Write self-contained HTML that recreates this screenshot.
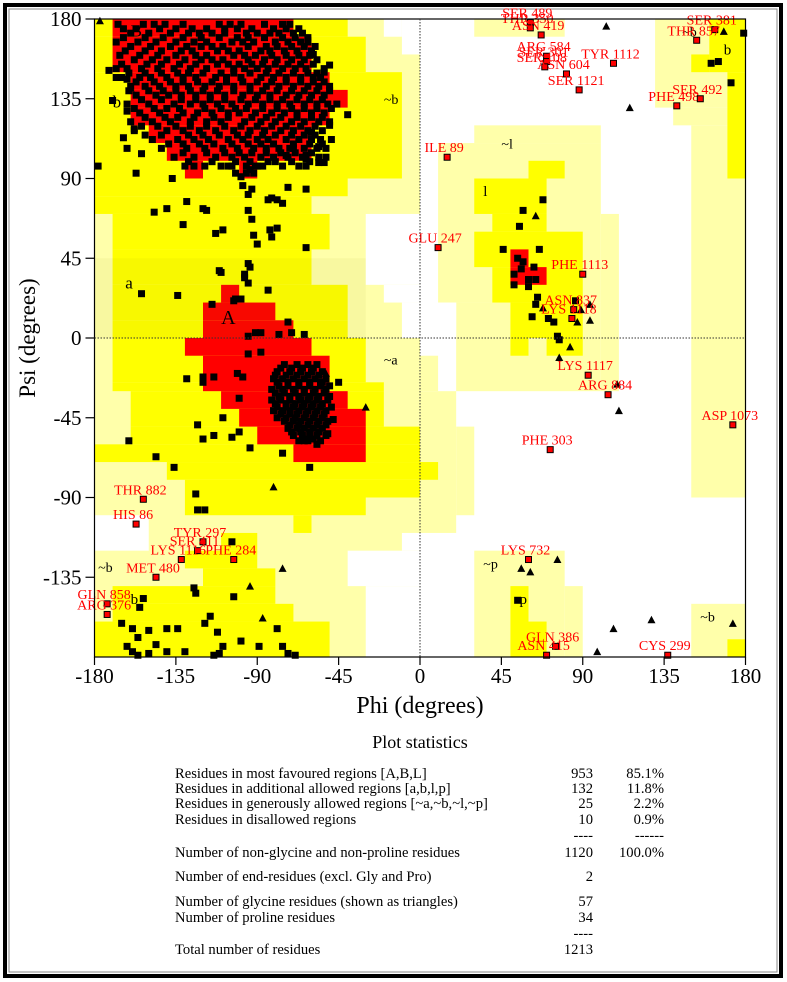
<!DOCTYPE html>
<html><head><meta charset="utf-8">
<style>
html,body{margin:0;padding:0;background:#fff;}
svg{display:block;font-family:"Liberation Serif",serif;}
</style></head>
<body>
<svg id="chart" width="787" height="982" viewBox="0 0 787 982" xmlns="http://www.w3.org/2000/svg">
<rect x="0" y="0" width="787" height="982" fill="#fff"/>
<rect x="5" y="5" width="776" height="971" fill="none" stroke="#000" stroke-width="4"/>
<rect x="9" y="9" width="768" height="963" fill="none" stroke="#888" stroke-width="1"/>
<g id="regions"></g>
<g id="points"></g>
<g id="axes"></g>
<g id="stats" font-size="14.6">
<text x="420" y="748" text-anchor="middle" font-size="18">Plot statistics</text>
<text x="175" y="778">Residues in most favoured regions  [A,B,L]</text>
<text x="593" y="778" text-anchor="end">953</text>
<text x="664" y="778" text-anchor="end">85.1%</text>
<text x="175" y="793">Residues in additional allowed regions  [a,b,l,p]</text>
<text x="593" y="793" text-anchor="end">132</text>
<text x="664" y="793" text-anchor="end">11.8%</text>
<text x="175" y="808">Residues in generously allowed regions  [~a,~b,~l,~p]</text>
<text x="593" y="808" text-anchor="end">25</text>
<text x="664" y="808" text-anchor="end">2.2%</text>
<text x="175" y="824">Residues in disallowed regions</text>
<text x="593" y="824" text-anchor="end">10</text>
<text x="664" y="824" text-anchor="end">0.9%</text>
<text x="593" y="840" text-anchor="end">----</text>
<text x="664" y="840" text-anchor="end">------</text>
<text x="175" y="857">Number of non-glycine and non-proline residues</text>
<text x="593" y="857" text-anchor="end">1120</text>
<text x="664" y="857" text-anchor="end">100.0%</text>
<text x="175" y="881">Number of end-residues (excl. Gly and Pro)</text>
<text x="593" y="881" text-anchor="end">2</text>
<text x="175" y="906">Number of glycine residues (shown as triangles)</text>
<text x="593" y="906" text-anchor="end">57</text>
<text x="175" y="922">Number of proline residues</text>
<text x="593" y="922" text-anchor="end">34</text>
<text x="593" y="938" text-anchor="end">----</text>
<text x="175" y="954">Total number of residues</text>
<text x="593" y="954" text-anchor="end">1213</text>
</g>
</svg>
<script>
// ---- data ----
const phiTicks = [-180,-135,-90,-45,0,45,90,135,180];
const psiTicks = [180,135,90,45,0,-45,-90,-135];
const betaPsiRows = [177,172,167,162,157,152,147,142,137,132,127,122,117,112,107,102,97,93,
174.5,169.5,164.5,159.5,154.5,149.5,144.5,139.5,134.5,129.5,124.5,119.5,114.5,109.5,104.5,99.5];
const betaPhiRows = [
[-167,-153,-147,-141,-131,-111,-105,-99,-86,-76,-72],
[-160,-150,-138,-128,-122,-115,-108,-96,-90,-83,-78,-70,-65],
[-168,-156,-146,-135,-125,-118,-104,-98,-92,-80,-73,-66,-62],
[-163,-152,-143,-132,-126,-112,-106,-100,-88,-83,-75,-68,-60],
[-158,-148,-140,-130,-121,-115,-109,-95,-86,-79,-71,-64,-57],
[-168,-162,-154,-145,-136,-127,-118,-103,-97,-90,-84,-76,-69,-63,-53],
[-165,-155,-149,-140,-131,-124,-113,-107,-99,-88,-81,-74,-66,-59,-55],
[-160,-152,-144,-135,-128,-119,-111,-103,-94,-85,-78,-70,-62,-56,-50],
[-157,-146,-139,-132,-124,-116,-108,-98,-90,-83,-74,-67,-60,-53],
[-162,-150,-136,-127,-120,-112,-104,-95,-87,-79,-72,-64,-57,-51,-46],
[-155,-144,-131,-123,-115,-106,-100,-91,-82,-75,-68,-60,-53],
[-160,-148,-138,-127,-118,-110,-97,-88,-80,-71,-64,-56,-50],
[-158,-140,-131,-122,-113,-103,-94,-86,-77,-70,-62,-54],
[-148,-134,-125,-117,-106,-98,-90,-84,-74,-67,-60,-55],
[-162,-143,-129,-119,-109,-101,-92,-85,-78,-72,-64,-57,-52],
[-136,-125,-113,-104,-97,-88,-81,-73,-65,-56,-52],
[-130,-125,-119,-110,-106,-96,-91,-87,-76,-67,-63],
[-102,-96,-92],
[-164,-157,-144,-135,-126,-118,-108,-101,-93,-81,-74,-67],
[-164,-152,-142,-131,-121,-111,-101,-95,-86,-76,-69,-62],
[-160,-149,-138,-129,-121,-115,-109,-95,-85,-79,-71,-64,-58],
[-166,-155,-145,-135,-124,-118,-103,-97,-91,-82,-74,-67,-61],
[-165,-151,-143,-133,-124,-112,-106,-100,-93,-87,-80,-73,-66,-59],
[-161,-152,-143,-134,-128,-120,-110,-103,-94,-85,-78,-70,-62,-57],
[-157,-147,-138,-131,-123,-115,-107,-98,-90,-82,-74,-66,-59,-53],
[-161,-150,-142,-135,-127,-120,-112,-103,-94,-87,-79,-71,-64,-57,-50],
[-154,-143,-132,-124,-116,-108,-99,-91,-83,-76,-68,-61,-54],
[-158,-147,-140,-133,-119,-110,-102,-96,-87,-79,-71,-64,-57,-49],
[-152,-141,-134,-125,-114,-106,-93,-85,-77,-68,-60,-54],
[-154,-145,-135,-127,-118,-108,-99,-90,-82,-74,-66,-58],
[-152,-143,-128,-120,-111,-101,-95,-87,-80,-71,-64,-58],
[-139,-131,-122,-114,-104,-95,-88,-81,-70,-61,-54],
[-131,-118,-108,-100,-93,-85,-77,-69,-60],
[-128,-115,-102,-94,-84,-80,-71,-61]
];
const blobPsiRows = [-15,-19,-23,-27,-31,-35,-39,-43,-47,-51,-55,-58,-17,-21,-25,-29,-33,-37,-41,-45,-49,-53,-57];
const blobPhiRows = [
[-75,-68,-62,-57],
[-79,-72,-66,-60,-54],
[-81,-76,-70,-64,-58,-52],
[-78,-73,-67,-61,-55,-50],
[-80,-75,-69,-64,-59,-53],
[-82,-77,-72,-66,-62,-57,-51],
[-79,-74,-70,-65,-60,-55,-49],
[-77,-72,-68,-63,-58,-53],
[-75,-70,-66,-61,-56,-51],
[-73,-68,-64,-59,-54],
[-70,-65,-61,-57,-52],
[-67,-62,-55],
[-77,-71,-65,-59],
[-80,-74,-68,-62,-56],
[-79,-73,-67,-61,-55],
[-82,-76,-70,-64,-58,-52],
[-78,-72,-67,-61,-56,-50],
[-80,-74,-69,-64,-59,-54],
[-81,-76,-72,-67,-62,-57,-52],
[-79,-74,-69,-64,-59,-54],
[-72,-67,-62,-57,-52],
[-71,-66,-61,-56],
[-64,-59]
];
const otherPts = [
[-178,97],[-157,93],[-137,90],[-164,113],[-154,104],[-158,118],[-170,134],[-162,128],[-172,151],[-168,147],[-162,146],
[-147,71],[-140,73],[-129,77],[-120,73],[-118,72],[-131,64],[-113,59],[-109,61],[-154,25],[-134,24],[-111,38],
[-98,86],[-93,84],[-95,81],[-95,72],[-93,67],[-92,58],[-90,53],[-82,57],[-83,61],[-79,62],[-84,78],[-82,79],[-79,78],
[-76,76],[-73,85],[-63,84],[-63,51],[-95,42],[-94,40],[-97,34],[-95,31],[-84,27],[-102,22],[-115,19],
[-40,126],[-50,154],[-53,150],[-50,120],[-49,112],[-56,108],[-56,99],[-53,99],[-63,101],[-63,103],[-60,116],[-70,107],
[-74,103],[-90,97],[-94,95],[-99,91],[-104,97],[-59,160],
[-129,-23],[-120,-22],[-120,-25],[-114,-22],[-109,-45],[-123,-49],[-120,-57],[-114,-55],[-104,-56],[-100,-53],[-94,-62],
[-76,-65],[-61,-73],[-100,-34],[-161,-58],[-146,-67],[-136,-73],[-124,-88],[-123,-97],[-119,-97],[-104,-115],
[-125,-141],[-124,-144],[-103,-146],[-153,-147],[-155,-152],[-165,-161],[-159,-164],[-150,-165],[-140,-164],[-134,-164],
[-119,-161],[-116,-157],[-112,-166],[-156,-169],[-146,-173],[-162,-174],[-159,-177],[-156,-179],[-150,-178],[-140,-177],
[-130,-177],[-114,-179],[-111,-178],[-109,-174],[-99,-171],[-89,-174],[-79,-164],[-76,-174],[-73,-178],[-69,-179],
[-110,37],[-97,36],[-103,21],[-99,22],[-73,9],[-71,3],[-64,2],[-78,2],[-91,3],[-88,3],[-95,1],[-88,-8],[-95,-9],
[-101,-20],[-98,-22],[-45,-25],[-54,-25],[-57,-60],[-64,-58],[-51,-54],[-48,-46],
[57,72],[55,63],[68,78],[46,50],[66,50],[54,45],[57,43],[63,40],[56,39],[52,36],[60,33],[64,33],[52,30],[60,29],
[65,23],[64,19],[86,21],[62,12],[71,11],[74,9],[76,1],[77,-1],[54,-148],[161,155],[165,156],[172,144],[179,172]
];
const glyPts = [
[103,176],[116,130],[168,173],[64,69],[68,17],[89,16],[94,19],[94,10],[87,9],[83,-5],[77,-11],[109,-26],[110,-41],
[76,-125],[56,-130],[61,-132],[107,-164],[128,-159],[173,-161],[98,-177],[-177,179],[-160,141],[-81,-84],[-76,-130],
[-94,-140],[-87,-158],[-52,-20],[-30,-39]
];
const labelNames = ["SER 489","THR 350","ASN 419","ARG 584","SER 301","SER 108","ASN 604","TYR 1112","SER 1121","SER 381","THR 857","PHE 498","SER 492","ILE 89","GLU 247","PHE 1113","ASN 837","LYS 1118","LYS 1117","ARG 884","ASP 1073","PHE 303","LYS 732","GLN 386","ASN 415","CYS 299","THR 882","HIS 86","TYR 297","SER 411","LYS 1116","PHE 284","MET 480","GLN 858","ARG 376"];
const labelPhi = [61,61,67,70,70,69,81,107,88,163,153,142,155,15,10,90,85,84,93,104,173,72,60,75,70,137,-153,-157,-120,-123,-132,-103,-146,-173,-173];
const labelPsi = [178,175,171,159,156,153,149,155,140,174,168,131,135,102,51,36,16,11,-21,-32,-49,-63,-125,-174,-179,-179,-91,-105,-115,-120,-125,-125,-135,-150,-156];

// region shapes [phi1,phi2,psiLo,psiHi]
const generousRects = [[-180,0,-180,180],[30,80,170,180],[130,180,130,180],[140,180,120,130],[150,180,-90,120],[150,180,-180,-150],
[10,100,20,110],[30,100,110,120],[100,110,-30,70],[20,100,-30,20],[0,10,-30,-10],[0,20,-110,-30],[20,30,-100,-50],[30,80,-180,-120],[80,90,-180,-140]];
const whiteRects = [[-20,-10,170,180],[-10,0,160,180],[-30,0,30,70],[-20,0,20,30],[-10,0,0,20],[-180,-150,-120,-100],[-10,0,-120,-110],[-40,0,-140,-120],[-30,0,-180,-140],[10,20,0,20]];
const allowedRects = [[-180,-40,170,180],[-180,-30,150,170],[-180,-10,90,150],[-180,-40,80,90],[-180,-60,70,80],[-170,-50,50,70],[-170,-60,30,50],[-170,-40,10,30],[-170,-40,0,10],
[-170,-30,-25,0],[-170,-20,-30,-25],[-160,-20,-50,-30],[-160,0,-60,-50],[-180,0,-70,-60],[-140,0,-80,-70],[0,10,-80,-70],[-130,0,-90,-80],[-130,-30,-100,-90],[-70,-60,-110,-100],
[-110,-90,-120,-110],[-130,-90,-130,-120],[-120,-80,-140,-130],[-170,-80,-150,-140],[-170,-70,-160,-150],[-180,-50,-180,-160],
[60,80,90,100],[30,70,70,90],[40,70,60,70],[30,90,40,60],[40,90,20,40],[50,90,0,20],[50,60,-10,0],[70,90,-10,0],
[160,180,150,180],[170,180,90,150],[150,160,150,160],[170,180,-180,-170],[50,60,-180,-140],[60,70,-180,-160]];
const coreRects = [[-170,-70,170,180],[-170,-60,150,170],[-160,-50,140,150],[-160,-40,130,140],[-160,-50,120,130],[-150,-60,110,120],[-140,-60,100,110],[-130,-120,90,100],[-100,-90,90,100],
[-110,-100,20,30],[-120,-80,10,20],[-120,-70,0,10],[-130,-60,-10,0],[-120,-50,-30,-10],[-110,-40,-40,-30],[-100,-30,-50,-40],[-90,-30,-60,-50],[-70,-30,-70,-60],
[50,60,40,50],[50,70,30,40]];
const regionLetters = [["B",-160,170,17],["b",-170,130,17],["a",-163,28,17],["A",-110,8,20],["~a",-20,-15,14],["~b",-20,132,14],["~l",45,107,14],["l",35,80,15],["~p",35,-130,14],["p",55,-150,15],["~b",145,170,14],["b",168,160,15],["~b",155,-160,14],["~b",-178,-132,14],["b",-160,-150,15]];

// ---- scales ----
const X0=94.5, X1=745.5, Y0=19, Y1=657;
function X(phi){return X0+(phi+180)*(X1-X0)/360;}
function Y(psi){return Y0+(180-psi)*(Y1-Y0)/360;}
const NS="http://www.w3.org/2000/svg";
function mk(tag,attrs,parent){const e=document.createElementNS(NS,tag);for(const k in attrs)e.setAttribute(k,attrs[k]);parent.appendChild(e);return e;}

const gR=document.getElementById('regions');
function drawRects(list,fill,name){
  list.forEach(r=>{
    const e=mk('rect',{x:X(r[0]),y:Y(r[3]),width:X(r[1])-X(r[0]),height:Y(r[2])-Y(r[3]),fill:fill},gR);
    
    
  });
}
drawRects(generousRects,'#ffffaa','generous-region');
drawRects(whiteRects,'#ffffff','disallowed-region');
drawRects(allowedRects,'#ffff00','allowed-region');
drawRects(coreRects,'#ff0000','favoured-region');
const band=mk('rect',{x:X(-180),y:Y(45),width:X(-30)-X(-180),height:Y(0)-Y(45),fill:'#808000','fill-opacity':'0.06'},gR);


regionLetters.forEach(l=>{
  const t=mk('text',{x:X(l[1]),y:Y(l[2]),'font-size':l[3],fill:'#000'},gR);
  t.textContent=l[0];
  
  
});

const gA=document.getElementById('axes');
const frame=mk('rect',{x:X0,y:Y0,width:X1-X0,height:Y1-Y0,fill:'none',stroke:'#000','stroke-width':1.2},gA);


const zx=mk('line',{x1:X(0),x2:X(0),y1:Y0,y2:Y1,stroke:'#333','stroke-width':1,'stroke-dasharray':'1.5,1.5'},gA);


const zy=mk('line',{x1:X0,x2:X1,y1:Y(0),y2:Y(0),stroke:'#333','stroke-width':1,'stroke-dasharray':'1.5,1.5'},gA);


phiTicks.forEach(v=>{
  const l=mk('line',{x1:X(v),x2:X(v),y1:Y1,y2:Y1+8,stroke:'#000','stroke-width':1.2},gA);
  
  
  const t=mk('text',{x:X(v),y:683,'font-size':21,'text-anchor':'middle'},gA);
  t.textContent=String(v);
  
  
});
psiTicks.forEach(v=>{
  const l=mk('line',{x1:X0-9,x2:X0,y1:Y(v),y2:Y(v),stroke:'#000','stroke-width':1.2},gA);
  
  
  const t=mk('text',{x:X0-13,y:Y(v)+7,'font-size':21,'text-anchor':'end'},gA);
  t.textContent=String(v);
  
  
});
const xt=mk('text',{x:420,y:713,'font-size':24,'text-anchor':'middle'},gA);
xt.textContent='Phi (degrees)';


const yt=mk('text',{x:0,y:0,'font-size':23,'text-anchor':'middle',transform:'translate(35,338) rotate(-90)'},gA);
yt.textContent='Psi (degrees)';



const gP=document.getElementById('points');
const S=7;
function sq(phi,psi,name){
  const e=mk('rect',{x:X(phi)-S/2,y:Y(psi)-S/2,width:S,height:S,fill:'#000'},gP);
  
  
}
betaPsiRows.forEach((psi,i)=>betaPhiRows[i].forEach(phi=>sq(phi,psi,'residue-point')));
blobPsiRows.forEach((psi,i)=>blobPhiRows[i].forEach(phi=>sq(phi,psi,'residue-point')));
otherPts.forEach(p=>sq(p[0],p[1],'residue-point'));
glyPts.forEach(p=>{
  const x=X(p[0]),y=Y(p[1]);
  const e=mk('polygon',{points:`${x},${y-4} ${x-4},${y+3.5} ${x+4},${y+3.5}`,fill:'#000'},gP);
  
  
});
labelNames.forEach((n,i)=>{
  const x=X(labelPhi[i]),y=Y(labelPsi[i]);
  const e=mk('rect',{x:x-3,y:y-3,width:6,height:6,fill:'#ff0000',stroke:'#000','stroke-width':1},gP);
  
  
  const t=mk('text',{x:x-3,y:y-5,'font-size':14,fill:'#ff0000','text-anchor':'middle'},gP);
  t.textContent=n;
  
  
});
</script>
</body></html>
